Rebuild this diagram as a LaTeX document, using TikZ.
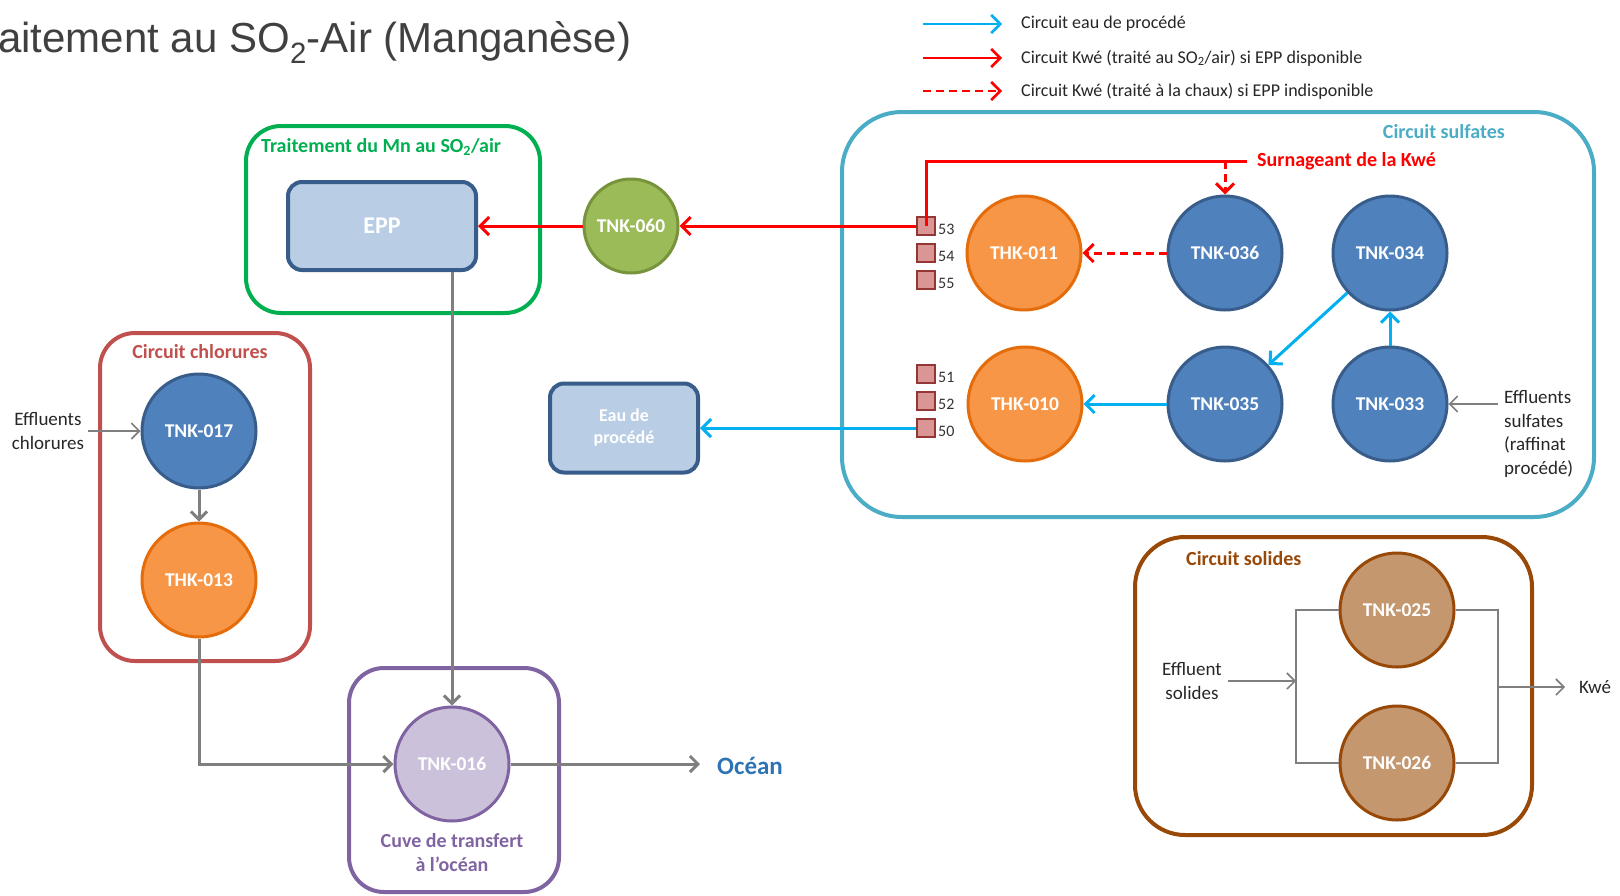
\documentclass[tikz,border=0pt]{standalone}
\usepackage{fontspec}
\setmainfont{Carlito}
\newfontfamily\titlefont{Liberation Sans}
\usetikzlibrary{arrows.meta}
\definecolor{cblue}{HTML}{4F81BD}
\definecolor{cblueb}{HTML}{385D8A}
\definecolor{corange}{HTML}{F79646}
\definecolor{corangeb}{HTML}{E46C0A}
\definecolor{cgreen}{HTML}{9BBB59}
\definecolor{cgreenb}{HTML}{77933C}
\definecolor{cpurple}{HTML}{CCC1DA}
\definecolor{cpurpleb}{HTML}{8064A2}
\definecolor{cbrown}{HTML}{C4976F}
\definecolor{cbrownb}{HTML}{984807}
\definecolor{cteal}{HTML}{4BACC6}
\definecolor{cchl}{HTML}{C0504D}
\definecolor{cgrn}{HTML}{00B050}
\definecolor{cprocess}{HTML}{00B0F0}
\definecolor{ckwe}{HTML}{FF0000}
\definecolor{cgray}{HTML}{7F7F7F}
\definecolor{csq}{HTML}{D99694}
\definecolor{csqb}{HTML}{943634}
\definecolor{cepp}{HTML}{B9CDE5}
\definecolor{ctitle}{HTML}{404040}
\definecolor{cocean}{HTML}{2E74B5}
\begin{document}
\begin{tikzpicture}[x=1pt,y=-1pt,
  every node/.style={inner sep=0pt},
  tank/.style={circle, minimum size=114pt, line width=3pt, font=\fontsize{19.5}{22}\selectfont\bfseries, text=white},
  bluetank/.style={tank, fill=cblue, draw=cblueb},
  orangetank/.style={tank, fill=corange, draw=corangeb},
  browntank/.style={tank, fill=cbrown, draw=cbrownb},
  grouplabel/.style={font=\fontsize{20}{24}\selectfont\bfseries},
  plain/.style={font=\fontsize{19}{23.5}\selectfont, text=black!85, align=center},
  legendtext/.style={font=\fontsize{18}{22}\selectfont, text=black!85, anchor=west},
  water/.style={draw=cprocess, line width=3pt, -{Straight Barb[length=9pt,width=18pt]}},
  kweline/.style={draw=ckwe, line width=3pt},
  kwe/.style={kweline, -{Straight Barb[length=9pt,width=18pt]}},
  kwedash/.style={kwe, dash pattern=on 8pt off 5pt},
  grayflow/.style={draw=cgray, line width=3pt, -{Straight Barb[length=8pt,width=16pt]}},
  thinflow/.style={draw=cgray, line width=1.6pt},
  thinarrow/.style={thinflow, -{Straight Barb[length=8pt,width=16pt]}},
  valve/.style={draw=csqb, fill=csq, line width=2pt, minimum size=18pt},
  valvelab/.style={font=\fontsize{16}{18}\selectfont, text=black!80, anchor=west},
  procbox/.style={draw=cblueb, fill=cepp, line width=4pt, rounded corners=14pt, text=white, font=\fontsize{18}{22}\selectfont\bfseries, align=center},
]
\useasboundingbox (0,0) rectangle (1620,895);

% title
\node[anchor=base west, font=\titlefont\fontsize{42}{50}\selectfont, text=ctitle] (title) at (-2,52) {aitement au SO\textsubscript{2}-Air (Manganèse)};

% legend
\coordinate (l1a) at (923,24); \coordinate (l1b) at (1002,24);
\coordinate (l2a) at (923,58); \coordinate (l2b) at (1002,58);
\coordinate (l3a) at (923,91); \coordinate (l3b) at (1002,91);
\draw[water, line width=2.5pt] (l1a) -- (l1b);
\draw[kwe, line width=2.5pt] (l2a) -- (l2b);
\draw[kwedash, line width=2.5pt] (l3a) -- (l3b);
\node[legendtext] (lt1) at (1021,24) {Circuit eau de procédé};
\node[legendtext] (lt2) at (1021,58) {Circuit Kwé (traité au SO\textsubscript{2}/air) si EPP disponible};
\node[legendtext] (lt3) at (1021,91) {Circuit Kwé (traité à la chaux) si EPP indisponible};

% group boxes
\draw[draw=cteal, line width=4pt, rounded corners=60pt] (842,112) rectangle (1594,517);
\node[grouplabel, text=cteal, anchor=east] (lsulf) at (1505,132) {Circuit sulfates};
\draw[draw=cgrn, line width=4pt, rounded corners=35pt] (246,126) rectangle (540,313);
\node[grouplabel, text=cgrn, anchor=west] (lmn) at (261,147) {Traitement du Mn au SO\textsubscript{2}/air};
\draw[draw=cchl, line width=4pt, rounded corners=35pt] (100,333) rectangle (310,661);
\node[grouplabel, text=cchl] (lchl) at (200,352) {Circuit chlorures};
\draw[draw=cpurpleb, line width=4pt, rounded corners=35pt] (349,668) rectangle (559,892);
\node[grouplabel, text=cpurpleb, align=center, font=\fontsize{20}{24}\selectfont\bfseries] (lcuve) at (452,853) {Cuve de transfert\\à l’océan};
\draw[draw=cbrownb, line width=4pt, rounded corners=50pt] (1135,537) rectangle (1532,835);
\node[grouplabel, text=cbrownb, anchor=west] (lsol) at (1186,559) {Circuit solides};

% tanks
\node[orangetank] (t011) at (1024,253) {THK-011};
\node[bluetank] (t036) at (1225,253) {TNK-036};
\node[bluetank] (t034) at (1390,253) {TNK-034};
\node[orangetank] (t010) at (1025,404) {THK-010};
\node[bluetank] (t035) at (1225,404) {TNK-035};
\node[bluetank] (t033) at (1390,404) {TNK-033};
\node[tank, fill=cgreen, draw=cgreenb, minimum size=94pt] (t060) at (631,226) {TNK-060};
\node[bluetank] (t017) at (199,431) {TNK-017};
\node[orangetank] (t013) at (199,580) {THK-013};
\node[tank, fill=cpurple, draw=cpurpleb] (t016) at (452,764) {TNK-016};
\node[browntank] (t025) at (1397,610) {TNK-025};
\node[browntank] (t026) at (1397,763) {TNK-026};

% process boxes
\node[procbox, minimum width=188pt, minimum height=88pt, font=\fontsize{24}{28}\selectfont\bfseries] (epp) at (382,226) {EPP};
\node[procbox, minimum width=148pt, minimum height=89pt] (eau) at (624,428) {Eau de\\procédé};

% valves
\node[valve] (v53) at (926,226) {};
\node[valve] (v54) at (926,253) {};
\node[valve] (v55) at (926,280) {};
\node[valve] (v51) at (926,374) {};
\node[valve] (v52) at (926,401) {};
\node[valve] (v50) at (926,428) {};
\node[valvelab] (n53) at (938,229) {53};
\node[valvelab] (n54) at (938,256) {54};
\node[valvelab] (n55) at (938,283) {55};
\node[valvelab] (n51) at (938,377) {51};
\node[valvelab] (n52) at (938,404) {52};
\node[valvelab] (n50) at (938,431) {50};

% labels
\node[grouplabel, text=ckwe, anchor=west] (surn) at (1257,161) {Surnageant de la Kwé};
\node[plain, anchor=west, align=left] (effsulf) at (1504,434) {Effluents\\sulfates\\(raffinat\\procédé)};
\node[plain] (effchl) at (48,431) {Effluents\\chlorures};
\node[plain] (effsol) at (1192,681) {Effluent\\solides};
\node[plain, anchor=west] (kwe) at (1579,687) {Kwé};
\node[font=\fontsize{25}{30}\selectfont\bfseries, text=cocean, anchor=west] (ocean) at (717,766) {Océan};

% red circuit
\draw[kweline] ([xshift=-10pt]surn.west) -| (v53.center);
\draw[kwedash] (t036.north |- surn.west) -- (t036.north);
\draw[kwedash] (t036.west) -- (t011.east);
\draw[kwe] (v53.west) -- (t060.east);
\draw[kwe] (t060.west) -- (epp.east);

% water circuit
\draw[water] (t033.north) -- (t034.south);
\draw[water] (t034.223) -- (t035.42);
\draw[water] (t035.west) -- (t010.east);
\draw[water] (v50.west) -- (eau.east);

% gray flows
\draw[thinarrow] (effsulf.west |- t033.east) ++(-6,0) -- (t033.east);
\draw[thinarrow] ([xshift=4pt]effchl.east) -- (t017.west);
\draw[grayflow] (t017.south) -- (t013.north);
\draw[grayflow] (t013.south) |- (t016.west);
\draw[grayflow] (t016.north |- epp.south) -- (t016.north);
\draw[grayflow] (t016.east) -- ([xshift=-17pt]ocean.west |- t016.east);

% solides circuit
\coordinate (sjl) at (1296,681);
\coordinate (sjr) at (1498,687);
\draw[thinarrow] ([xshift=6pt]effsol.east) -- (sjl);
\draw[thinflow] (t025.west) -| (sjl) |- (t026.west);
\draw[thinflow] (t025.east) -| (sjr) |- (t026.east);
\draw[thinarrow] (sjr) -- ([xshift=-14pt]kwe.west);
\end{tikzpicture}
\end{document}
